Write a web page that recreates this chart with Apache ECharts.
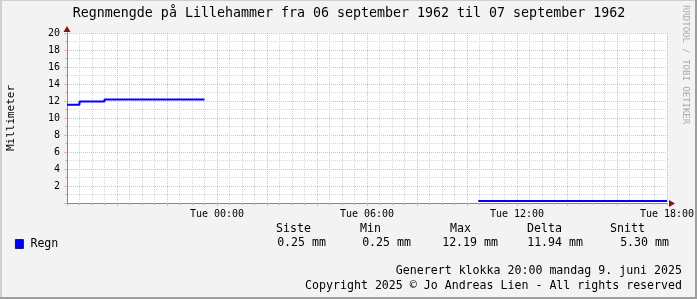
<!DOCTYPE html>
<html><head><meta charset="utf-8">
<script src="https://cdn.jsdelivr.net/npm/echarts@6/dist/echarts.min.js"></script>
<style>html,body{margin:0;padding:0;background:#f3f3f3}#c{width:697px;height:299px}</style>
</head><body><div id="c"></div>
<script>
// Data (hours since Mon 18:00)
var hours  = [0,     0.5,   1.5,   5.5,  16.45, 24];
var regn   = [11.55, 11.95, 12.19, null, 0.25,  0.25];
var xTickLabels = {6:'Tue 00:00', 12:'Tue 06:00', 18:'Tue 12:00', 24:'Tue 18:00'};
var statHeaders = ['Siste','Min','Max','Delta','Snitt'];
var statValues  = ['0.25 mm','0.25 mm','12.19 mm','11.94 mm','5.30 mm'];
var titleText = 'Regnmengde på Lillehammer fra 06 september 1962 til 07 september 1962';
var footer1 = 'Generert klokka 20:00 mandag 9. juni 2025';
var footer2 = 'Copyright 2025 © Jo Andreas Lien - All rights reserved';

var F = 'DejaVu Sans Mono';
var chart = echarts.init(document.getElementById('c'), null, {renderer:'canvas'});
var data = hours.map(function(h,i){return [h, regn[i]];});
var majorGrid = 'rgba(235,140,140,0.65)';
var minorGrid = '#d6d6d6';

var headerRight = [311, 381, 471, 562, 645];
var valueRight  = [326, 411, 498, 583, 669];
var g = [
  {type:'rect', shape:{x:0,y:0,width:697,height:299}, style:{fill:'#f3f3f3'}, z:-10},
  {type:'rect', shape:{x:0,y:0,width:2,height:299}, style:{fill:'#cfcfcf'}, z:100},
  {type:'rect', shape:{x:0,y:0,width:697,height:1}, style:{fill:'#cfcfcf'}, z:100},
  {type:'rect', shape:{x:695,y:0,width:2,height:299}, style:{fill:'#9e9e9e'}, z:100},
  {type:'rect', shape:{x:0,y:297,width:697,height:2}, style:{fill:'#9e9e9e'}, z:100},
  {type:'polygon', shape:{points:[[669,200],[675,203.5],[669,207]]}, style:{fill:'#8b1010'}, z:100},
  {type:'polygon', shape:{points:[[63.5,32],[67,26],[70.5,32]]}, style:{fill:'#8b1010'}, z:100},
  {type:'text', x:349, y:14, style:{text:titleText, font:'13.3px '+F, fill:'#000', textAlign:'center', textVerticalAlign:'middle'}},
  {type:'text', x:685, y:5, rotation:-Math.PI/2, style:{text:'RRDTOOL / TOBI OETIKER', font:'9px '+F, fill:'#aaaaaa', textAlign:'left', textVerticalAlign:'middle'}},
  {type:'text', x:682, y:271, style:{text:footer1, font:'11.6px '+F, fill:'#000', textAlign:'right', textVerticalAlign:'middle'}},
  {type:'text', x:682, y:286, style:{text:footer2, font:'11.6px '+F, fill:'#000', textAlign:'right', textVerticalAlign:'middle'}}
];
statHeaders.forEach(function(h,i){
  g.push({type:'text', x:headerRight[i], y:229, style:{text:h, font:'11.6px '+F, fill:'#000', textAlign:'right', textVerticalAlign:'middle'}});
  g.push({type:'text', x:valueRight[i], y:243, style:{text:statValues[i], font:'11.6px '+F, fill:'#000', textAlign:'right', textVerticalAlign:'middle'}});
});

chart.setOption({
  animation:false,
  backgroundColor:'#f3f3f3',
  legend:{left:15, top:238, padding:0, itemWidth:8, itemHeight:9, itemGap:4, icon:'rect',
    textStyle:{fontFamily:F, fontSize:11.6, color:'#000', padding:[0,0,0,2]},
    data:[{name:'Regn', itemStyle:{color:'#0000ff', borderColor:'#000033', borderWidth:0.8}}]},
  grid:{left:67, top:33, width:600, height:170, show:true, backgroundColor:'#ffffff', borderWidth:0,
    containLabel:false, outerBoundsMode:'none'},
  graphic:g,
  xAxis:{type:'value', min:0, max:24, interval:2,
    axisLine:{show:true, lineStyle:{color:'#888888', width:1}},
    axisTick:{show:true, length:3, lineStyle:{color:majorGrid}},
    minorTick:{show:true, splitNumber:4, length:2, lineStyle:{color:'#bbbbbb'}},
    splitLine:{show:true, lineStyle:{color:majorGrid, type:[1,1], width:1}},
    minorSplitLine:{show:true, lineStyle:{color:minorGrid, type:[1,1], width:1}},
    axisLabel:{show:true, margin:6, fontFamily:F, fontSize:10, color:'#000', showMinLabel:true, showMaxLabel:true,
      formatter:function(v){return xTickLabels[v]||'';}}},
  yAxis:{type:'value', min:0, max:20, interval:2,
    name:'Millimeter', nameLocation:'middle', nameGap:50, nameRotate:90,
    nameTextStyle:{fontFamily:F, fontSize:11, color:'#000'},
    axisLine:{show:true, lineStyle:{color:'#888888', width:1}},
    axisTick:{show:true, length:3, lineStyle:{color:majorGrid}},
    minorTick:{show:true, splitNumber:2, length:2, lineStyle:{color:'#bbbbbb'}},
    splitLine:{show:true, lineStyle:{color:majorGrid, type:[1,1], width:1}},
    minorSplitLine:{show:true, lineStyle:{color:minorGrid, type:[1,1], width:1}},
    axisLabel:{margin:7, fontFamily:F, fontSize:10, color:'#000', formatter:function(v){return v===0?'':String(v);}}},
  series:[{name:'Regn', type:'line', step:'end', data:data, showSymbol:false, connectNulls:false,
    lineStyle:{color:'#0000ff', width:2}, itemStyle:{color:'#0000ff'}, z:3}]
});
</script></body></html>
